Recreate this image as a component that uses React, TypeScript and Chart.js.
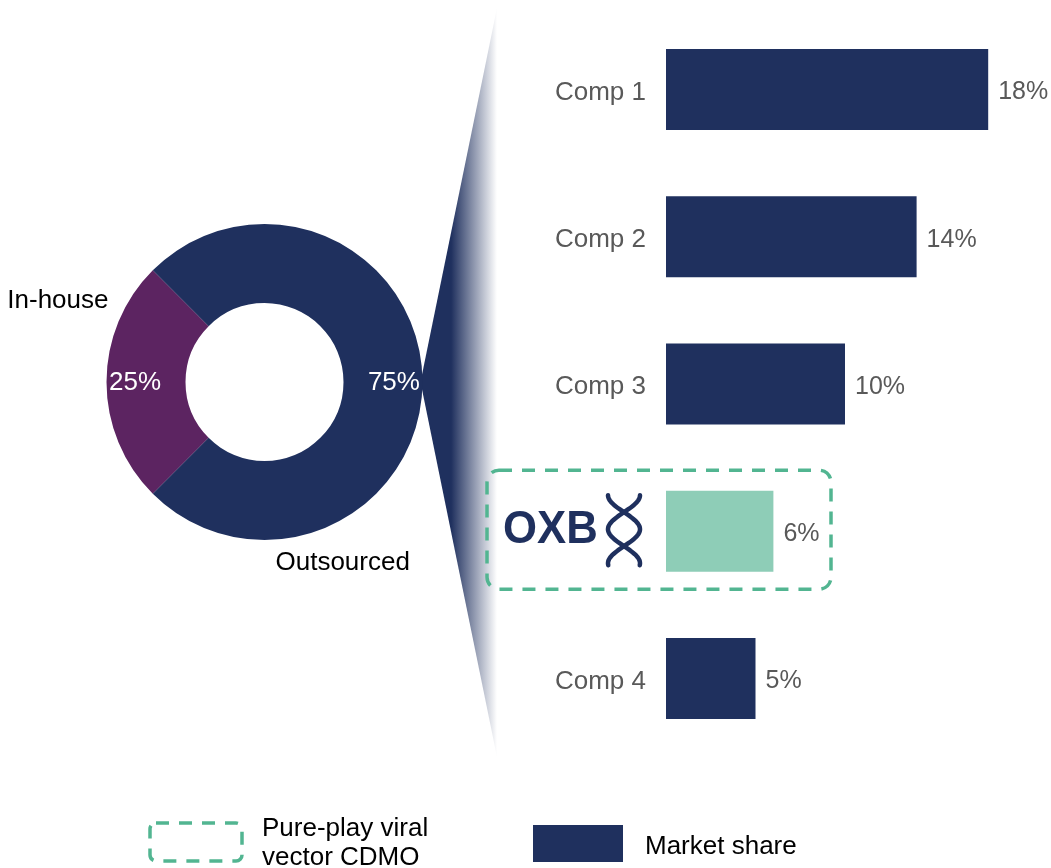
import React, { useEffect, useRef } from 'react';
import { Chart, registerables } from 'chart.js';

Chart.register(...registerables);

// ---------- data ----------
const splitLabels = ['In-house', 'Outsourced'];
const splitValues = [25, 75];
const splitColors = ['#5c2461', '#1f305e'];

const companies = ['Comp 1', 'Comp 2', 'Comp 3', 'OXB', 'Comp 4'];
const shares = [18, 14, 10, 6, 5];
const barColors = ['#1f305e', '#1f305e', '#1f305e', '#8ecdb7', '#1f305e'];
const highlighted = 'OXB';

const legendDashedLines = ['Pure-play viral', 'vector CDMO'];
const legendSeriesLabel = 'Market share';

// ---------- styles ----------
const FONT = '"Liberation Sans", Arial, sans-serif';
const NAVY = '#1f305e';
const GREEN_DASH = '#52b591';
const GREY = '#595959';

function roundRectPath(ctx: CanvasRenderingContext2D, x: number, y: number, w: number, h: number, r: number) {
  ctx.beginPath();
  ctx.moveTo(x + r, y);
  ctx.lineTo(x + w - r, y);
  ctx.arcTo(x + w, y, x + w, y + r, r);
  ctx.lineTo(x + w, y + h - r);
  ctx.arcTo(x + w, y + h, x + w - r, y + h, r);
  ctx.lineTo(x + r, y + h);
  ctx.arcTo(x, y + h, x, y + h - r, r);
  ctx.lineTo(x, y + r);
  ctx.arcTo(x, y, x + r, y, r);
  ctx.closePath();
}

const donutPlugin = {
  id: 'donutDecor',
  beforeDatasetsDraw(chart: any) {
    const ctx = chart.ctx as CanvasRenderingContext2D;
    const arc = chart.getDatasetMeta(0).data[0] as any;
    if (!arc) return;
    const cx = arc.x, cy = arc.y, R = arc.outerRadius;
    const tipX = cx + R - 2;
    const rightX = 497;
    ctx.save();
    const g = ctx.createLinearGradient(tipX, 0, rightX, 0);
    g.addColorStop(0, NAVY);
    g.addColorStop(0.4, NAVY);
    g.addColorStop(1, 'rgba(255,255,255,1)');
    ctx.fillStyle = g;
    ctx.beginPath();
    ctx.moveTo(tipX, cy);
    ctx.lineTo(rightX, 8);
    ctx.lineTo(rightX, 757);
    ctx.closePath();
    ctx.fill();
    ctx.restore();
  },
  afterDatasetsDraw(chart: any) {
    const ctx = chart.ctx as CanvasRenderingContext2D;
    const meta = chart.getDatasetMeta(0);
    const arc0 = meta.data[0] as any;
    const cx = arc0.x, cy = arc0.y, R = arc0.outerRadius;
    ctx.save();
    ctx.font = `26px ${FONT}`;
    ctx.fillStyle = '#ffffff';
    ctx.textAlign = 'center';
    ctx.textBaseline = 'middle';
    meta.data.forEach((a: any, i: number) => {
      const mid = (a.startAngle + a.endAngle) / 2;
      const r = a.outerRadius * 0.8;
      ctx.fillText(`${splitValues[i]}%`, a.x + Math.cos(mid) * (r + 3), a.y + Math.sin(mid) * r + 1);
    });
    // category labels
    ctx.fillStyle = '#000000';
    ctx.font = `26px ${FONT}`;
    ctx.textAlign = 'right';
    ctx.fillText(splitLabels[0], cx - R + 2, cy - 81);
    ctx.textAlign = 'left';
    ctx.fillText(splitLabels[1], cx + 11, cy + R + 23);
    ctx.restore();
  },
  afterDraw(chart: any) {
    const ctx = chart.ctx as CanvasRenderingContext2D;
    ctx.save();
    // dashed legend item
    ctx.strokeStyle = GREEN_DASH;
    ctx.lineWidth = 3.5;
    ctx.setLineDash([13, 10]);
    roundRectPath(ctx, 150, 823, 92, 38, 6);
    ctx.stroke();
    ctx.setLineDash([]);
    ctx.fillStyle = '#000000';
    ctx.font = `26px ${FONT}`;
    ctx.textAlign = 'left';
    ctx.textBaseline = 'alphabetic';
    ctx.fillText(legendDashedLines[0], 262, 836);
    ctx.fillText(legendDashedLines[1], 262, 865);
    // series legend item
    ctx.fillStyle = NAVY;
    ctx.fillRect(533, 825, 90, 37);
    ctx.fillStyle = '#000000';
    ctx.fillText(legendSeriesLabel, 645, 854);
    ctx.restore();
  },
};

const barPlugin = {
  id: 'barDecor',
  afterDatasetsDraw(chart: any) {
    const ctx = chart.ctx as CanvasRenderingContext2D;
    const meta = chart.getDatasetMeta(0);
    ctx.save();
    ctx.font = `25px ${FONT}`;
    ctx.fillStyle = GREY;
    ctx.textAlign = 'left';
    ctx.textBaseline = 'middle';
    meta.data.forEach((b: any, i: number) => {
      ctx.fillText(`${shares[i]}%`, b.x + 10, b.y + 3);
    });
    ctx.restore();
  },
  afterDraw(chart: any) {
    const ctx = chart.ctx as CanvasRenderingContext2D;
    const idx = companies.indexOf(highlighted);
    if (idx < 0) return;
    const b = chart.getDatasetMeta(0).data[idx] as any;
    const left = chart.chartArea.left;
    const yC = b.y;
    ctx.save();
    // dashed highlight box
    ctx.strokeStyle = GREEN_DASH;
    ctx.lineWidth = 3.5;
    ctx.setLineDash([13, 10]);
    roundRectPath(ctx, left - 179, yC - 61, 344, 119, 12);
    ctx.stroke();
    ctx.setLineDash([]);
    // logo text
    ctx.fillStyle = NAVY;
    ctx.textAlign = 'left';
    ctx.textBaseline = 'alphabetic';
    ctx.save();
    ctx.translate(left - 163, yC + 12);
    ctx.scale(0.95, 1);
    ctx.font = `bold 46px ${FONT}`;
    ctx.fillText(highlighted, 0, 0);
    ctx.restore();
    // helix mark
    ctx.strokeStyle = NAVY;
    ctx.lineWidth = 4.5;
    ctx.lineCap = 'round';
    const hx = left - 42;
    const top = yC - 36;
    for (const sgn of [-1, 1]) {
      ctx.beginPath();
      for (let k = 0; k <= 70; k++) {
        const yy = top + k;
        const xx = hx + sgn * 16 * Math.cos((2 * Math.PI * k) / 68);
        if (k === 0) ctx.moveTo(xx, yy);
        else ctx.lineTo(xx, yy);
      }
      ctx.stroke();
    }
    ctx.restore();
  },
};

export default function App() {
  const donutRef = useRef<HTMLCanvasElement | null>(null);
  const barRef = useRef<HTMLCanvasElement | null>(null);

  useEffect(() => {
    const donut = new Chart(donutRef.current as HTMLCanvasElement, {
      type: 'doughnut',
      data: {
        labels: splitLabels,
        datasets: [{ data: splitValues, backgroundColor: splitColors, borderWidth: 0 }],
      },
      options: {
        responsive: false,
        animation: false,
        devicePixelRatio: 1,
        events: [],
        rotation: 225,
        cutout: '50%',
        layout: { padding: { left: 106, right: 628, top: 224, bottom: 328 } },
        plugins: { legend: { display: false }, tooltip: { enabled: false } },
      } as any,
      plugins: [donutPlugin],
    });

    const bar = new Chart(barRef.current as HTMLCanvasElement, {
      type: 'bar',
      data: {
        labels: companies,
        datasets: [
          {
            data: shares,
            backgroundColor: barColors,
            borderWidth: 0,
            barPercentage: 0.55,
            categoryPercentage: 1,
          },
        ],
      },
      options: {
        indexAxis: 'y',
        responsive: false,
        animation: false,
        devicePixelRatio: 1,
        events: [],
        layout: { padding: { left: 0, right: 27, top: 16, bottom: 16 } },
        scales: {
          x: { display: false, min: 0, max: 20 },
          y: {
            grid: { display: false, drawTicks: false },
            border: { display: false },
            ticks: {
              padding: 20,
              labelOffset: 3,
              color: GREY,
              font: { family: FONT, size: 26 },
              callback: (_v: any, i: number) => (companies[i] === highlighted ? '' : companies[i]),
            },
            afterFit: (s: any) => {
              s.width = 226;
              s.paddingTop = 0;
              s.paddingBottom = 0;
            },
          },
        },
        plugins: { legend: { display: false }, tooltip: { enabled: false } },
      } as any,
      plugins: [barPlugin],
    });

    return () => {
      donut.destroy();
      bar.destroy();
    };
  }, []);

  return (
    <div style={{ position: 'absolute', left: 0, top: 0, width: 1051, height: 868, background: '#ffffff' }}>
      <canvas
        ref={donutRef}
        width={1051}
        height={868}
        style={{ position: 'absolute', left: 0, top: 0, width: 1051, height: 868 }}
      />
      <canvas
        ref={barRef}
        width={611}
        height={768}
        style={{ position: 'absolute', left: 440, top: 0, width: 611, height: 768 }}
      />
    </div>
  );
}
